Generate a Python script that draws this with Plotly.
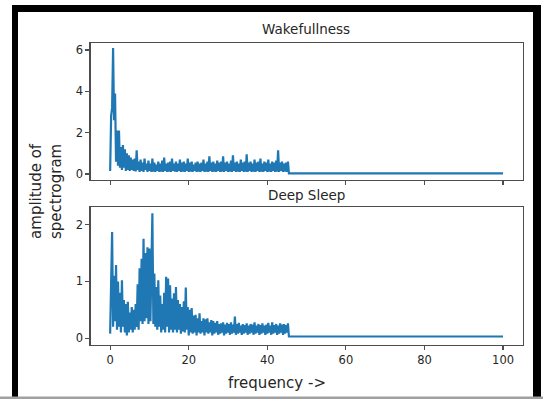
import numpy as np
import plotly.graph_objects as go

# frequency bins (Hz) of the active band, then the flat tail
freq_band = np.round(np.arange(0, 45.26, 0.25), 2).tolist()
freq_tail = [45.5, 100.0]

wake_band = [
    0.15, 2.8, 3.2, 6.1, 2.6, 3.9, 0.6, 2.1, 0.4, 2.1, 0.3, 1.3, 0.2, 1.4, 0.3, 1.2, 0.15, 1.0, 0.2, 0.9,
    0.15, 0.8, 0.2, 0.7, 0.15, 0.75, 0.12, 1.15, 0.2, 0.6, 0.1, 0.7, 0.15, 0.55, 0.1, 0.75, 0.2, 0.5, 0.1, 0.65,
    0.15, 0.5, 0.1, 0.75, 0.12, 0.55, 0.1, 0.45, 0.15, 0.6, 0.1, 0.5, 0.12, 0.65, 0.1, 0.8, 0.15, 0.5, 0.1, 0.55,
    0.12, 0.6, 0.1, 0.75, 0.15, 0.5, 0.12, 0.6, 0.1, 0.5, 0.15, 0.7, 0.1, 0.55, 0.12, 0.6, 0.1, 0.5, 0.15, 0.75,
    0.1, 0.55, 0.12, 0.6, 0.1, 0.45, 0.15, 0.55, 0.1, 0.6, 0.12, 0.5, 0.1, 0.55, 0.15, 0.7, 0.1, 0.5, 0.12, 0.6,
    0.1, 0.85, 0.15, 0.55, 0.1, 0.6, 0.12, 0.5, 0.1, 0.65, 0.15, 0.55, 0.1, 0.6, 0.12, 0.85, 0.1, 0.55, 0.15, 0.6,
    0.1, 0.5, 0.12, 0.65, 0.1, 0.9, 0.15, 0.55, 0.1, 0.6, 0.12, 0.5, 0.1, 0.7, 0.15, 0.55, 0.1, 0.6, 0.12, 0.95,
    0.1, 0.55, 0.15, 0.6, 0.1, 0.5, 0.12, 0.7, 0.1, 0.55, 0.15, 0.6, 0.1, 0.75, 0.12, 0.5, 0.1, 0.6, 0.15, 0.55,
    0.1, 0.7, 0.12, 0.5, 0.1, 0.6, 0.15, 0.55, 0.1, 0.65, 0.12, 1.15, 0.1, 0.55, 0.15, 0.6, 0.1, 0.5, 0.12, 0.55,
    0.1, 0.6,
]
wake_tail = [0.03, 0.03]

deep_band = [
    0.08, 1.28, 1.87, 0.2, 1.1, 0.3, 1.29, 0.15, 1.0, 0.2, 0.8, 0.1, 1.02, 0.2, 0.67, 0.1, 0.6, 0.05, 0.64, 0.1,
    0.45, 0.15, 0.55, 0.1, 0.5, 0.15, 0.6, 0.2, 0.95, 0.15, 1.23, 0.3, 1.4, 0.25, 1.75, 0.3, 1.5, 0.35, 1.6, 0.25,
    1.58, 0.3, 1.0, 2.2, 0.25, 1.14, 0.2, 0.9, 0.15, 1.02, 0.2, 0.75, 0.1, 0.6, 0.15, 0.8, 0.1, 1.08, 0.2, 1.05,
    0.1, 0.93, 0.15, 0.7, 0.1, 0.79, 0.15, 0.9, 0.1, 0.67, 0.15, 0.6, 0.08, 0.55, 0.12, 0.65, 0.1, 0.89, 0.15, 0.55,
    0.05, 0.5, 0.1, 0.53, 0.08, 0.4, 0.1, 0.41, 0.05, 0.35, 0.1, 0.44, 0.08, 0.3, 0.1, 0.35, 0.05, 0.33, 0.1, 0.35,
    0.08, 0.28, 0.1, 0.32, 0.05, 0.3, 0.08, 0.27, 0.1, 0.3, 0.06, 0.25, 0.08, 0.26, 0.1, 0.28, 0.05, 0.24, 0.08, 0.27,
    0.1, 0.25, 0.06, 0.28, 0.08, 0.24, 0.1, 0.38, 0.06, 0.25, 0.08, 0.27, 0.1, 0.22, 0.06, 0.25, 0.08, 0.23, 0.1, 0.26,
    0.06, 0.22, 0.08, 0.25, 0.1, 0.24, 0.06, 0.28, 0.08, 0.22, 0.1, 0.25, 0.06, 0.23, 0.08, 0.26, 0.1, 0.22, 0.06, 0.24,
    0.08, 0.27, 0.1, 0.22, 0.06, 0.28, 0.08, 0.23, 0.1, 0.25, 0.06, 0.22, 0.08, 0.26, 0.1, 0.24, 0.06, 0.25, 0.08, 0.23,
    0.1, 0.26,
]
deep_tail = [0.03, 0.03]

x_ticks = [0, 20, 40, 60, 80, 100]
wake_yticks = [0, 2, 4, 6]
deep_yticks = [0, 1, 2]

freq = freq_band + freq_tail
wake = wake_band + wake_tail
deep = deep_band + deep_tail

W, H = 543, 399
BLUE = "#1f77b4"
TXT = "#262626"
SPINE = "#4d4d4d"
FONT = "DejaVu Sans"

def px(x):
    return x / W

def py(y):
    return (H - y) / H

fig = go.Figure()
fig.add_trace(go.Scatter(x=freq, y=wake, mode="lines", line=dict(color=BLUE, width=2.2),
                         xaxis="x", yaxis="y", showlegend=False, hoverinfo="skip"))
fig.add_trace(go.Scatter(x=freq, y=deep, mode="lines", line=dict(color=BLUE, width=2.2),
                         xaxis="x2", yaxis="y2", showlegend=False, hoverinfo="skip"))

axis_common = dict(showgrid=False, zeroline=False, showline=True, mirror=True,
                   linecolor=SPINE, linewidth=1.2, ticks="outside", ticklen=4,
                   tickcolor=SPINE, tickwidth=1.2, automargin=False,
                   tickfont=dict(family=FONT, size=11.5, color=TXT))

xdom = [px(90.5), px(522.7)]
fig.update_layout(
    width=W, height=H,
    margin=dict(l=0, r=0, t=0, b=0),
    paper_bgcolor="white", plot_bgcolor="white",
    xaxis=dict(domain=xdom, range=[-5, 105], tickvals=x_ticks, showticklabels=False,
               anchor="y", **axis_common),
    yaxis=dict(domain=[py(180), py(43)], range=[-0.29, 6.34], tickvals=wake_yticks,
               anchor="x", **axis_common),
    xaxis2=dict(domain=xdom, range=[-5, 105], tickvals=x_ticks, anchor="y2", **axis_common),
    yaxis2=dict(domain=[py(345), py(207)], range=[-0.12, 2.31], tickvals=deep_yticks,
                anchor="x2", **axis_common),
)

ann = [
    dict(text="Wakefullness", x=px(306), y=py(29), size=13.5),
    dict(text="Deep Sleep", x=px(306), y=py(195), size=13.5),
    dict(text="frequency ->", x=px(277), y=py(383), size=15),
]
for a in ann:
    fig.add_annotation(text=a["text"], x=a["x"], y=a["y"], xref="paper", yref="paper",
                       showarrow=False, xanchor="center", yanchor="middle",
                       font=dict(family=FONT, size=a["size"], color=TXT))
fig.add_annotation(text="amplitude of<br>spectrogram", x=px(46), y=py(191), xref="paper", yref="paper",
                   showarrow=False, xanchor="center", yanchor="middle", textangle=-90,
                   font=dict(family=FONT, size=15, color=TXT))

# screenshot frame
frame = [
    dict(x0=12, x1=18, y0=5, y1=397, c="black"),
    dict(x0=12, x1=541, y0=5, y1=12, c="black"),
    dict(x0=533, x1=541, y0=5, y1=397, c="black"),
    dict(x0=0, x1=543, y0=396.5, y1=399, c="#a0a0a0"),
]
for f in frame:
    fig.add_shape(type="rect", xref="paper", yref="paper",
                  x0=px(f["x0"]), x1=px(f["x1"]), y0=py(f["y1"]), y1=py(f["y0"]),
                  fillcolor=f["c"], line=dict(width=0), layer="above")

fig.write_html("out.html", config={"displayModeBar": False, "staticPlot": True})

# remove the default 8px page margin so the figure fills the window exactly
with open("out.html", "r", encoding="utf-8") as fh:
    html = fh.read()
html = html.replace("<head>", "<head><style>html,body{margin:0;padding:0;overflow:hidden;}</style>", 1)
with open("out.html", "w", encoding="utf-8") as fh:
    fh.write(html)
